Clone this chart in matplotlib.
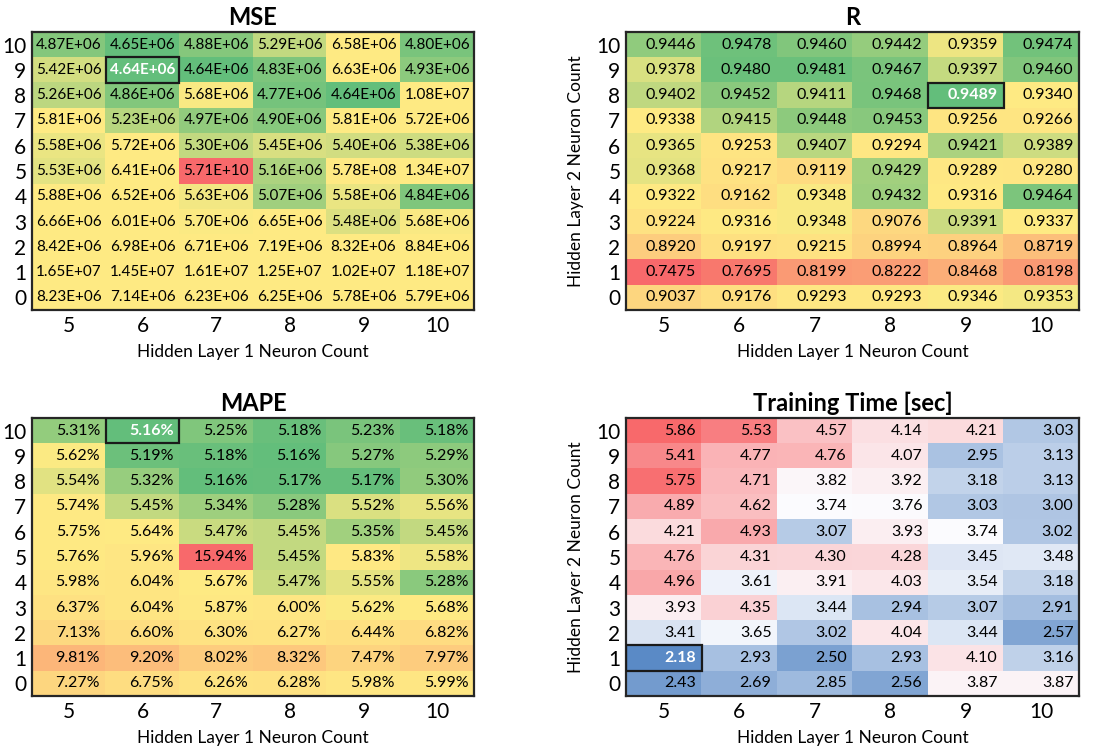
import numpy as np
import matplotlib
matplotlib.use("Agg")
import matplotlib.pyplot as plt
from matplotlib.colors import LinearSegmentedColormap, TwoSlopeNorm
from matplotlib.patches import Rectangle

plt.rcParams['font.family'] = ['Lato', 'DejaVu Sans']

layer1 = [5, 6, 7, 8, 9, 10]
layer2 = [10, 9, 8, 7, 6, 5, 4, 3, 2, 1, 0]  # rows, top to bottom

mse = np.array([
    [4.87e6, 4.65e6, 4.88e6, 5.29e6, 6.58e6, 4.80e6],
    [5.42e6, 4.64e6, 4.64e6, 4.83e6, 6.63e6, 4.93e6],
    [5.26e6, 4.86e6, 5.68e6, 4.77e6, 4.64e6, 1.08e7],
    [5.81e6, 5.23e6, 4.97e6, 4.90e6, 5.81e6, 5.72e6],
    [5.58e6, 5.72e6, 5.30e6, 5.45e6, 5.40e6, 5.38e6],
    [5.53e6, 6.41e6, 5.71e10, 5.16e6, 5.78e8, 1.34e7],
    [5.88e6, 6.52e6, 5.63e6, 5.07e6, 5.58e6, 4.84e6],
    [6.66e6, 6.01e6, 5.70e6, 6.65e6, 5.48e6, 5.68e6],
    [8.42e6, 6.98e6, 6.71e6, 7.19e6, 8.32e6, 8.84e6],
    [1.65e7, 1.45e7, 1.61e7, 1.25e7, 1.02e7, 1.18e7],
    [8.23e6, 7.14e6, 6.23e6, 6.25e6, 5.78e6, 5.79e6],
])

r_val = np.array([
    [0.9446, 0.9478, 0.9460, 0.9442, 0.9359, 0.9474],
    [0.9378, 0.9480, 0.9481, 0.9467, 0.9397, 0.9460],
    [0.9402, 0.9452, 0.9411, 0.9468, 0.9489, 0.9340],
    [0.9338, 0.9415, 0.9448, 0.9453, 0.9256, 0.9266],
    [0.9365, 0.9253, 0.9407, 0.9294, 0.9421, 0.9389],
    [0.9368, 0.9217, 0.9119, 0.9429, 0.9289, 0.9280],
    [0.9322, 0.9162, 0.9348, 0.9432, 0.9316, 0.9464],
    [0.9224, 0.9316, 0.9348, 0.9076, 0.9391, 0.9337],
    [0.8920, 0.9197, 0.9215, 0.8994, 0.8964, 0.8719],
    [0.7475, 0.7695, 0.8199, 0.8222, 0.8468, 0.8198],
    [0.9037, 0.9176, 0.9293, 0.9293, 0.9346, 0.9353],
])

mape = np.array([
    [5.31, 5.16, 5.25, 5.18, 5.23, 5.18],
    [5.62, 5.19, 5.18, 5.16, 5.27, 5.29],
    [5.54, 5.32, 5.16, 5.17, 5.17, 5.30],
    [5.74, 5.45, 5.34, 5.28, 5.52, 5.56],
    [5.75, 5.64, 5.47, 5.45, 5.35, 5.45],
    [5.76, 5.96, 15.94, 5.45, 5.83, 5.58],
    [5.98, 6.04, 5.67, 5.47, 5.55, 5.28],
    [6.37, 6.04, 5.87, 6.00, 5.62, 5.68],
    [7.13, 6.60, 6.30, 6.27, 6.44, 6.82],
    [9.81, 9.20, 8.02, 8.32, 7.47, 7.97],
    [7.27, 6.75, 6.26, 6.28, 5.98, 5.99],
])

train_time = np.array([
    [5.86, 5.53, 4.57, 4.14, 4.21, 3.03],
    [5.41, 4.77, 4.76, 4.07, 2.95, 3.13],
    [5.75, 4.71, 3.82, 3.92, 3.18, 3.13],
    [4.89, 4.62, 3.74, 3.76, 3.03, 3.00],
    [4.21, 4.93, 3.07, 3.93, 3.74, 3.02],
    [4.76, 4.31, 4.30, 4.28, 3.45, 3.48],
    [4.96, 3.61, 3.91, 4.03, 3.54, 3.18],
    [3.93, 4.35, 3.44, 2.94, 3.07, 2.91],
    [3.41, 3.65, 3.02, 4.04, 3.44, 2.57],
    [2.18, 2.93, 2.50, 2.93, 4.10, 3.16],
    [2.43, 2.69, 2.85, 2.56, 3.87, 3.87],
])

# best cell per panel: (layer 1 count, layer 2 count)
best_mse = (6, 9)
best_r = (9, 8)
best_mape = (6, 10)
best_time = (5, 1)

GREEN, YELLOW, RED = "#63BE7B", "#FFEB84", "#F8696B"
BLUE, WHITE = "#5A8AC6", "#FCFCFF"

cm_low_good = LinearSegmentedColormap.from_list("gyr", [GREEN, YELLOW, RED])
cm_high_good = LinearSegmentedColormap.from_list("ryg", [RED, YELLOW, GREEN])
cm_time = LinearSegmentedColormap.from_list("bwr", [BLUE, WHITE, RED])

W, H = 1106, 747
fig = plt.figure(figsize=(W / 100, H / 100), dpi=100)


def px_axes(x0, y0, x1, y1):
    return fig.add_axes([x0 / W, 1 - y1 / H, (x1 - x0) / W, (y1 - y0) / H])


def heatmap(ax, data, cmap, fmt, best, title, align="right", ylabel=False, fs=11.5):
    # excel-like 3 colour scale: min / median / max
    norm = TwoSlopeNorm(vmin=data.min(), vcenter=np.median(data), vmax=data.max())
    ax.imshow(data, cmap=cmap, norm=norm, aspect="auto", interpolation="nearest")
    nr, nc = data.shape
    bc = layer1.index(best[0])
    br = layer2.index(best[1])
    for i in range(nr):
        for j in range(nc):
            is_best = (i == br and j == bc)
            kw = dict(fontsize=fs, va="center",
                      color="white" if is_best else "black",
                      fontweight="bold" if is_best else "normal")
            if align == "center":
                ax.text(j, i, fmt(data[i, j]), ha="center", **kw)
            else:
                ax.annotate(fmt(data[i, j]), xy=(j + 0.5, i), xytext=(-4, 0),
                            textcoords="offset points", ha="right", **kw)
    ax.add_patch(Rectangle((bc - 0.5, br - 0.5), 1, 1, fill=False,
                           edgecolor="#1a1a1a", linewidth=1.6, zorder=5))
    ax.set_xticks(range(nc))
    ax.set_xticklabels([str(v) for v in layer1])
    ax.set_yticks(range(nr))
    ax.set_yticklabels([str(v) for v in layer2])
    ax.tick_params(length=0, labelsize=15, pad=4)
    for s in ax.spines.values():
        s.set_linewidth(1.6)
        s.set_color("#262626")
    ax.set_title(title, fontsize=17, fontweight="bold", pad=5)
    ax.set_xlabel("Hidden Layer 1 Neuron Count", fontsize=12.5, labelpad=6)
    if ylabel:
        ax.set_ylabel("Hidden Layer 2 Neuron Count", fontsize=12.5, labelpad=9)


ax1 = px_axes(32, 32, 474, 310)
heatmap(ax1, mse, cm_low_good, lambda v: f"{v:.2E}", best_mse, "MSE", align="center",
        fs=11)

ax2 = px_axes(626, 32, 1079, 310)
heatmap(ax2, r_val, cm_high_good, lambda v: f"{v:.4f}", best_r, "R", ylabel=True)

ax3 = px_axes(32, 418, 474, 696)
heatmap(ax3, mape, cm_low_good, lambda v: f"{v:.2f}%", best_mape, "MAPE")

ax4 = px_axes(626, 418, 1079, 696)
heatmap(ax4, train_time, cm_time, lambda v: f"{v:.2f}", best_time, "Training Time [sec]",
        ylabel=True)

fig.savefig("out.png", dpi=100)
